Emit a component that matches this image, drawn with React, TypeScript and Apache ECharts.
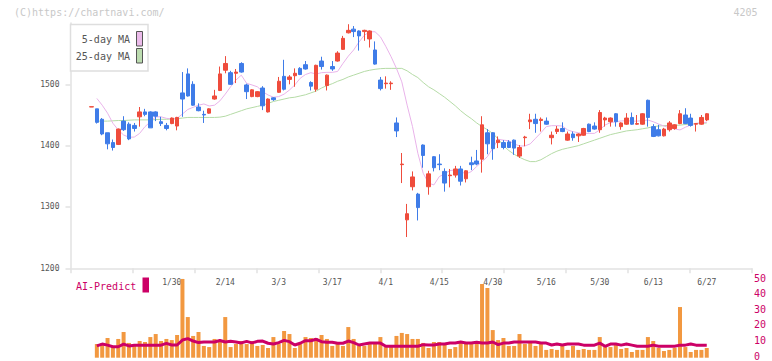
import React, { useEffect, useRef } from "react";
import * as echarts from "echarts";

const dates = [
  "1/8","1/9","1/10","1/14","1/15","1/16","1/17","1/20","1/21","1/22","1/23","1/24","1/27","1/28","1/29","1/30","1/31",
  "2/3","2/4","2/5","2/6","2/7","2/10","2/12","2/13","2/14","2/17","2/18","2/19","2/20","2/21","2/25","2/26","2/27","2/28",
  "3/3","3/4","3/5","3/6","3/7","3/10","3/11","3/12","3/13","3/14","3/17","3/18","3/19","3/21","3/24","3/25","3/26","3/27","3/28","3/31",
  "4/1","4/2","4/3","4/4","4/7","4/8","4/9","4/10","4/11","4/14","4/15","4/16","4/17","4/18","4/21","4/22","4/23","4/24","4/25","4/28","4/30",
  "5/1","5/2","5/7","5/8","5/9","5/12","5/13","5/14","5/15","5/16","5/19","5/20","5/21","5/22","5/23","5/26","5/27","5/28","5/29","5/30",
  "6/2","6/3","6/4","6/5","6/6","6/9","6/10","6/11","6/12","6/13","6/16","6/17","6/18","6/19","6/20","6/23","6/24","6/25","6/26","6/27"
];
const shownDates = ["1/30","2/14","3/3","3/17","4/1","4/15","4/30","5/16","5/30","6/13","6/27"];

// [open, close, low, high]
const candles = [
  [1463,1463.5,1463,1463.5],[1460,1438,1436,1460],[1443,1419,1417,1445],[1421,1403,1394,1421],[1405,1397,1392,1410],
  [1402,1427,1401,1428],[1440,1426,1424,1448],[1435,1411,1409,1438],[1433,1428,1423,1437],[1447,1455,1431,1463],
  [1455,1451,1448,1460],[1455,1429,1429,1456],[1455,1448,1440,1456],[1439,1436,1432,1447],[1433,1428,1425,1437],
  [1436,1445,1435,1446],[1432,1446,1425,1447],[1486,1476,1447,1520],[1517,1481,1480,1526],[1500,1466,1465,1505],
  [1463,1457,1456,1469],[1451,1450,1437,1457],[1453,1460,1452,1461],[1476,1481,1475,1491],[1490,1517,1489,1529],
  [1523,1534,1518,1546],[1519,1500,1499,1522],[1518,1520,1502,1525],[1534,1520,1519,1536],[1499,1488,1476,1501],
  [1480,1491,1479,1492],[1480,1488,1479,1489],[1494,1465,1458,1497],[1455,1476,1454,1477],[1478,1475,1473,1479],
  [1487,1505,1486,1512],[1513,1492,1490,1540],[1508,1512,1500,1515],[1514,1518,1496,1526],[1526,1516,1515,1528],
  [1532,1525,1524,1538],[1503,1497,1490,1505],[1492,1531,1488,1532],[1538,1529,1524,1545],[1498,1515,1490,1516],
  [1529,1525,1522,1538],[1538,1551,1537,1554],[1557,1575,1556,1579],[1584,1588,1583,1598],[1590,1586,1577,1595],
  [1587,1579,1555,1588],[1586,1588,1571,1589],[1574,1587,1560,1588],[1556,1533,1532,1570],[1507,1493,1490,1512],
  [1501,1502,1493,1513],[1501,1502,1491,1505],[1437,1424,1414,1446],[1369,1370,1339,1388],[1279,1289,1251,1305],
  [1333,1349,1327,1358],[1321,1299,1278,1323],[1401,1384,1364,1402],[1333,1354,1320,1359],[1382,1364,1358,1383],
  [1370,1369,1360,1386],[1358,1339,1325,1363],[1351,1352,1332,1362],[1352,1362,1348,1367],[1362,1342,1335,1367],
  [1346,1359,1340,1360],[1372,1369,1360,1382],[1375,1370,1368,1393],[1378,1434,1356,1448],[1421,1403,1386,1427],
  [1421,1395,1377,1422],[1405,1409,1396,1415],[1405,1397,1394,1409],[1406,1397,1396,1409],[1409,1396,1385,1410],
  [1383,1397,1380,1401],[1413,1414,1399,1416],[1439,1442,1427,1452],[1443,1436,1421,1452],[1441,1443,1423,1446],
  [1440,1435,1434,1446],[1413,1417,1402,1423],[1423,1427,1419,1432],[1428,1423,1422,1438],[1409,1419,1408,1423],
  [1419,1413,1408,1423],[1416,1419,1406,1420],[1417,1428,1416,1429],[1435,1423,1422,1436],[1432,1427,1426,1438],
  [1426,1454,1421,1458],[1442,1445,1431,1447],[1439,1445,1431,1446],[1452,1439,1431,1453],[1431,1437,1426,1438],
  [1435,1445,1434,1453],[1446,1435,1434,1454],[1435,1436,1434,1450],[1435,1452,1434,1453],[1474,1446,1431,1475],
  [1431,1415,1414,1435],[1426,1416,1415,1434],[1416,1427,1415,1429],[1426,1437,1423,1440],[1428,1434,1426,1435],
  [1436,1452,1435,1458],[1450,1436,1435,1461],[1445,1433,1431,1452],[1435,1436,1423,1437],[1435,1446,1434,1450],
  [1442,1452,1440,1453]
];

const ma5 = [
  null,1477,1466,1453,1436.5,1425.6,1417.4,1413.7,1414,1420,1431,1439,1447,1447,1444.6,1443.5,1444.6,1451.6,1459,1462.5,
  1466,1468,1464.7,1466,1473,1484,1496,1507,1515,1501.6,1499,1496,1488,1482.6,1479,1480,1484,1490.7,1499,1509.8,
  1516,1519,1516.8,1519,1519.5,1519.5,1521,1534,1546,1556,1569,1580,1585.7,1585.7,1577.5,1562,1545,1526,1504,1466,
  1431,1387.6,1355,1338.8,1336,1349.5,1354,1359.4,1360.4,1357.7,1354,1357.7,1366,1374,1382,1395.8,1410.4,1409,1408,1403,
  1399.5,1399.5,1402.8,1412,1421,1431,1432.6,1432.6,1432,1425.6,1422.8,1421,1420,1420,1420,1425.6,1433.7,1437.5,1439,1440.2,
  1440.7,1440,1440,1440.7,1441.8,1439,1435.3,1432,1429.3,1427.2,1425.6,1430,1433.7,1436.5,1437.5,1438
];

const ma25 = [
  null,1440,1440,1440,1440.5,1441,1441,1441.5,1442,1442,1442,1442,1442.5,1443,1443,1443.5,1444,1445,1446,1446,
  1446,1446,1446,1446,1446.5,1448,1451,1454,1457,1460,1462,1464,1466,1469,1472,1474,1476,1478,1479,1481,
  1483,1486,1489,1494,1498,1501,1505,1508,1512,1515,1518,1521,1523,1524.5,1525.5,1526,1526,1526,1526,1522,
  1516,1511,1503,1496,1491,1485,1479,1472,1465,1457,1450,1444,1437,1431,1426,1420,1411,1400,1392,1386,
  1381,1377,1374,1374,1377,1382,1387,1391,1394,1396,1398,1400,1403,1406,1409,1412,1415,1418,1420,1422,
  1424,1425,1426,1427.5,1429,1431,1432,1432.6,1433,1433,1433.5,1434.5,1435,1436,1436.5,1437
];

const volume = [
  null,8.6,9.1,12.4,7.4,11.8,16.2,9.3,7.4,10.5,9.9,13,14.9,10.5,11.8,11.1,14.3,49.6,25.6,13.7,
  16.2,7.4,6.7,11.8,11.1,25.6,6.7,8.6,10.5,8.6,10.5,7.4,8,6.1,13,8.6,16.8,14.9,6.1,8.6,
  13,12.4,12.4,14.3,11.8,7.4,8.6,7.4,19.3,11.8,7.4,7.4,8.6,9.9,13,6.7,6.7,13.7,15.6,14.9,
  11.8,11.8,9.3,6.1,9.9,9.9,8.6,5.5,6.7,9.9,9.9,9.9,9.9,46.4,43.9,17.4,11.1,12.4,7.4,7.4,
  14.9,8.6,9.9,7.4,8.6,4.9,5.5,4.9,8.6,4.9,7.4,4.9,5.5,4.9,4.9,13,6.7,6.7,8.6,5.5,
  6.1,3.6,4.9,4.9,13,10.5,6.1,4.2,4.9,6.1,31.9,6.7,3.6,4.9,4.9,6.1
];

const aiPredict = [
  null,7.4,8.6,7.9,6.9,6.9,8.6,7.4,7.9,7.9,7.9,7.9,7.9,7.9,9.0,8.0,8.0,11.1,12.0,10.5,
  9.5,9.9,9.9,9.9,10.8,9.9,10.3,9.9,9.3,10.3,9.3,10.3,10.5,9.1,8.6,9.5,10.9,10.1,8.0,9.1,
  10.7,10.7,11.6,10.1,9.7,9.7,9.1,9.1,10.5,9.5,8.0,8.6,9.2,9.2,9.2,7.2,7.2,7.2,7.2,7.2,
  7.2,7.2,8.2,8.0,8.0,8.6,8.6,9.2,9.2,9.9,9.2,9.2,9.7,9.2,9.2,9.9,8.2,9.2,9.2,9.9,
  9.9,9.9,9.9,9.9,9.2,9.2,8.0,8.6,8.0,8.6,8.6,8.6,7.9,7.9,7.9,9.2,7.2,8.6,8.6,7.9,
  8.6,7.9,7.2,7.2,7.2,7.9,7.2,7.2,7.2,7.2,7.9,7.9,8.6,7.9,7.9,7.9
];

const priceTicks = [1200, 1300, 1400, 1500];
const volumeMax = 50;

const MONO = '"DejaVu Sans Mono", "Liberation Mono", monospace';
const RED = "#ef4c3c";
const BLUE = "#3f7ce8";
const ORANGE = "#f29840";
const MAGENTA = "#cc0066";
const AXIS = "#e2e2e2";

export default function App() {
  const ref = useRef<HTMLDivElement>(null);
  useEffect(() => {
    if (!ref.current) return;
    const chart = echarts.init(ref.current, null, { renderer: "svg" });
    const n = dates.length;
    const slot = 5.35;
    const firstCenter = 91.5;
    const catLeft = firstCenter - slot / 2;
    const catWidth = slot * n;
    const plotLeft = 70.5;
    const plotRight = 752;
    const pTop = 23, pBottom = 268.3;
    const vTop = 278.3, vBottom = 357.7;

    chart.setOption({
      animation: false,
      grid: [
        { left: catLeft, top: pTop, width: catWidth, height: pBottom - pTop },
        { left: plotLeft, top: pTop, width: plotRight - plotLeft, height: pBottom - pTop },
        { left: catLeft, top: vTop, width: catWidth, height: vBottom - vTop },
        { left: plotLeft, top: vTop, width: plotRight - plotLeft, height: vBottom - vTop },
      ],
      xAxis: [
        {
          gridIndex: 0, type: "category", data: dates, boundaryGap: true,
          axisLine: { show: false }, axisTick: { show: false }, splitLine: { show: false },
          axisLabel: {
            interval: (_i: number, v: string) => shownDates.indexOf(v) >= 0,
            fontSize: 8, fontFamily: MONO, color: "#555", margin: 10, hideOverlap: false,
          },
        },
        {
          gridIndex: 1, type: "value", min: 0, max: 11, interval: 1,
          axisLine: { show: true, lineStyle: { color: AXIS, width: 1.5 } },
          axisTick: { show: true, length: 5, lineStyle: { color: AXIS, width: 1.5 } },
          axisLabel: { show: false }, splitLine: { show: false },
        },
        { gridIndex: 2, type: "category", data: dates, boundaryGap: true, show: false },
        { gridIndex: 3, type: "value", min: 0, max: 1, show: false },
      ],
      yAxis: [
        { gridIndex: 0, type: "value", min: 1200, max: 1600, show: false },
        {
          gridIndex: 1, type: "value", min: 1200, max: 1600, interval: 100,
          axisLine: { show: true, lineStyle: { color: AXIS, width: 1.5 } },
          axisTick: { show: true, length: 5, customValues: priceTicks, lineStyle: { color: AXIS, width: 1.5 } },
          axisLabel: {
            customValues: priceTicks, fontSize: 8, fontFamily: MONO, color: "#555", margin: 11,
            formatter: (v: number) => String(v),
          },
          splitLine: { show: false },
        },
        { gridIndex: 2, type: "value", min: 0, max: volumeMax, show: false },
        {
          gridIndex: 3, type: "value", min: 0, max: volumeMax, interval: 10, position: "right",
          axisLine: { show: false }, axisTick: { show: false }, splitLine: { show: false },
          axisLabel: { fontSize: 10, fontFamily: MONO, color: MAGENTA, margin: 2, formatter: (v: number) => String(v) },
        },
      ],
      series: [
        {
          type: "line", xAxisIndex: 0, yAxisIndex: 0, data: ma25, symbol: "none",
          lineStyle: { color: "#b5dba6", width: 1 }, z: 1, silent: true,
        },
        {
          type: "line", xAxisIndex: 0, yAxisIndex: 0, data: ma5, symbol: "none",
          lineStyle: { color: "#e9b3ea", width: 1 }, z: 1, silent: true,
        },
        {
          type: "candlestick", xAxisIndex: 0, yAxisIndex: 0, data: candles, barWidth: 4, z: 3,
          itemStyle: { color: RED, color0: BLUE, borderColor: RED, borderColor0: BLUE, borderWidth: 1 },
        },
        {
          type: "bar", xAxisIndex: 2, yAxisIndex: 2, data: volume, barWidth: 4,
          itemStyle: { color: ORANGE }, z: 2,
        },
        {
          type: "line", xAxisIndex: 2, yAxisIndex: 2, data: aiPredict, symbol: "none",
          lineStyle: { color: MAGENTA, width: 3 }, z: 4,
        },
      ],
      graphic: [
        { type: "text", x: 14, y: 12.5, style: { text: "(C)https://chartnavi.com/", font: `10px ${MONO}`, fill: "#c8c8c8", textVerticalAlign: "middle" } },
        { type: "text", x: 757.5, y: 12.5, style: { text: "4205", font: `10px ${MONO}`, fill: "#c8c8c8", textAlign: "right", textVerticalAlign: "middle" } },
        { type: "rect", shape: { x: 70.5, y: 24.5, width: 77.5, height: 46.5 }, style: { fill: "#fff", stroke: "#dedede", lineWidth: 1.5 }, z: 10 },
        { type: "text", x: 130, y: 39, style: { text: "5-day MA", font: `10px ${MONO}`, fill: "#555", textAlign: "right", textVerticalAlign: "middle" }, z: 11 },
        { type: "text", x: 130, y: 56, style: { text: "25-day MA", font: `10px ${MONO}`, fill: "#555", textAlign: "right", textVerticalAlign: "middle" }, z: 11 },
        { type: "rect", shape: { x: 136.5, y: 31.5, width: 6, height: 14.5 }, style: { fill: "#ebbbea", stroke: "#555", lineWidth: 1 }, z: 11 },
        { type: "rect", shape: { x: 136.5, y: 48.5, width: 6, height: 14.5 }, style: { fill: "#bcdcb0", stroke: "#555", lineWidth: 1 }, z: 11 },
        { type: "text", x: 76, y: 286, style: { text: "AI-Predict", font: `10px ${MONO}`, fill: MAGENTA, textVerticalAlign: "middle" }, z: 11 },
        { type: "rect", shape: { x: 142.5, y: 277.5, width: 6.5, height: 15 }, style: { fill: MAGENTA }, z: 11 },
      ],
    });
    return () => chart.dispose();
  }, []);
  return <div ref={ref} style={{ position: "absolute", left: 0, top: 0, width: 772, height: 361, background: "#fff" }} />;
}
